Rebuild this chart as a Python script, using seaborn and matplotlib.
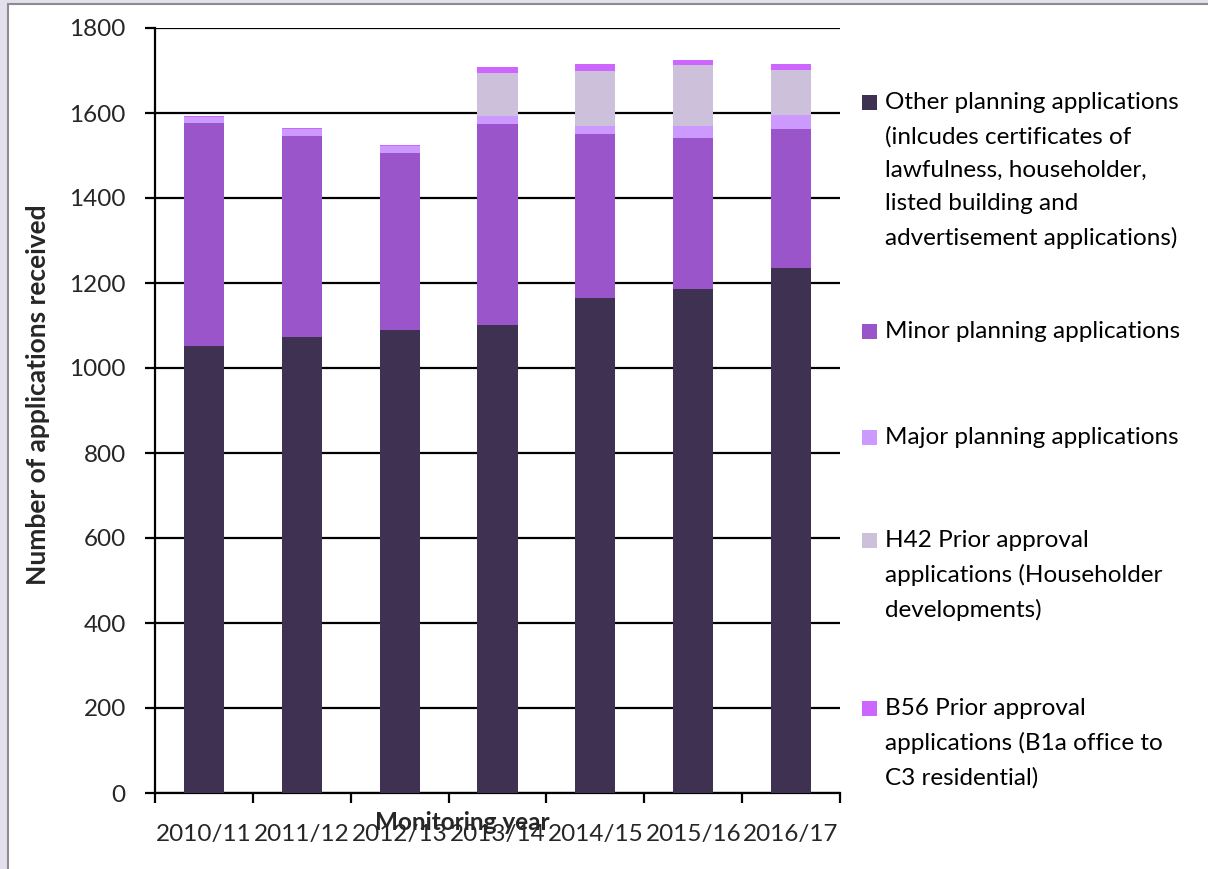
import numpy as np
import pandas as pd
import matplotlib
matplotlib.use("Agg")
import matplotlib.pyplot as plt
from matplotlib.patches import Rectangle
import seaborn as sns

years = ["2010/11", "2011/12", "2012/13", "2013/14", "2014/15", "2015/16", "2016/17"]
other = [1052, 1073, 1090, 1102, 1165, 1186, 1236]
minor = [525, 474, 417, 473, 386, 356, 327]
major = [13, 16, 16, 19, 19, 28, 33]
h42 = [0, 0, 0, 99, 130, 144, 106]
b56 = [2, 2, 2, 16, 16, 11, 14]

series_labels = [
    "Other planning applications\n(inlcudes certificates of\nlawfulness, householder,\nlisted building and\nadvertisement applications)",
    "Minor planning applications",
    "Major planning applications",
    "H42 Prior approval\napplications (Householder\ndevelopments)",
    "B56 Prior approval\napplications (B1a office to\nC3 residential)",
]
colors = ["#3F3151", "#9A55CB", "#CC99FF", "#CCC0DA", "#CC66FF"]
y_ticks = [0, 200, 400, 600, 800, 1000, 1200, 1400, 1600, 1800]

sns.set_theme(style="white")
plt.rcParams["font.family"] = ["Lato", "DejaVu Sans"]

W, H = 1208, 869
FS = 17.5
fig = plt.figure(figsize=(W / 100, H / 100), dpi=100, facecolor="#E4DFEC")
fig.patches.append(Rectangle((8 / W, -0.01), 1.0, 1.01 - 4 / H, transform=fig.transFigure,
                             facecolor="white", edgecolor="#8C8C8C", lw=1.5, zorder=-10))

ax = fig.add_axes([155 / W, 1 - 793 / H, (840 - 155) / W, (793 - 28) / H])
ax.set_facecolor("none")
ax.set_zorder(2)

series = [other, minor, major, h42, b56]
bottom = np.zeros(len(years))
for vals, col in zip(series, colors):
    sns.barplot(x=years, y=vals, bottom=bottom, color=col, width=0.41, ax=ax,
                saturation=1, zorder=3, linewidth=0)
    bottom = bottom + np.array(vals)

ax.set_ylim(0, 1800)
ax.set_xlim(-0.5, 6.5)
ax.set_yticks(y_ticks)
ax.set_yticklabels([str(v) for v in y_ticks], fontsize=FS)
ax.yaxis.grid(True, color="black", lw=1.6, zorder=0)
ax.set_axisbelow(True)

ax.set_xticks(np.arange(-0.5, 7, 1))
ax.set_xticklabels([""] * 8)
ax.set_xticks(np.arange(7), minor=True)
ax.set_xticklabels(years, minor=True, fontsize=FS)
ax.tick_params(axis="x", which="major", direction="out", length=7, width=1.6, color="black", bottom=True)
ax.tick_params(axis="x", which="minor", length=0, pad=22, bottom=True)
ax.tick_params(axis="y", direction="out", length=7, width=1.6, color="black", pad=14, left=True)

for s in ["top", "right"]:
    ax.spines[s].set_visible(False)
for s in ["left", "bottom"]:
    ax.spines[s].set_color("black")
    ax.spines[s].set_linewidth(1.6)

ax.set_xlabel("Monitoring year", fontsize=FS, fontweight="bold")
ax.xaxis.set_label_coords((462 - 155) / 685, -0.024)
ax.set_ylabel("Number of applications received", fontsize=19, fontweight="bold")
ax.yaxis.set_label_coords(-(155 - 50) / 685, (793 - 395) / 765)

# manual legend (Excel style)
first_line_y = [102, 331, 437, 540, 708]
for lab, col, yc in zip(series_labels, colors, first_line_y):
    fig.patches.append(Rectangle((862 / W, 1 - (yc + 8) / H), 15 / W, 15 / H,
                                 transform=fig.transFigure, facecolor=col, edgecolor="none"))
    fig.text(885 / W, 1 - (yc - 10) / H, lab, fontsize=FS, va="top", ha="left",
             linespacing=1.72, color="black")

fig.savefig("out.png", dpi=100, facecolor=fig.get_facecolor())
